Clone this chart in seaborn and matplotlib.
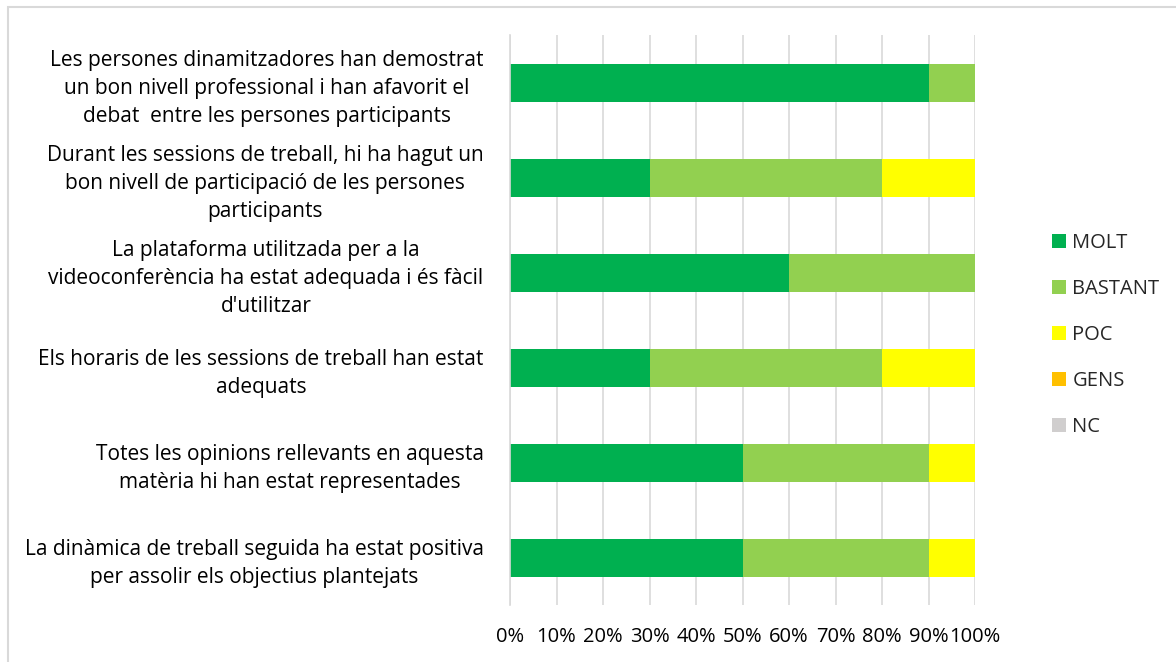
"""
Valoració de les sessions de treball: barres horitzontals apilades al 100%.
"""

import numpy as np
import pandas as pd
import matplotlib
matplotlib.use("Agg")
import matplotlib.pyplot as plt
from matplotlib.patches import Patch, Rectangle
import seaborn as sns

# Dades
categories = [
    "Les persones dinamitzadores han demostrat\nun bon nivell professional i han afavorit el\ndebat  entre les persones participants",
    "Durant les sessions de treball, hi ha hagut un\nbon nivell de participació de les persones\nparticipants",
    "La plataforma utilitzada per a la\nvideoconferència ha estat adequada i és fàcil\nd'utilitzar",
    "Els horaris de les sessions de treball han estat\nadequats",
    "Totes les opinions rellevants en aquesta\nmatèria hi han estat representades",
    "La dinàmica de treball seguida ha estat positiva\nper assolir els objectius plantejats",
]
molt = [0.90, 0.30, 0.60, 0.30, 0.50, 0.50]
bastant = [0.10, 0.50, 0.40, 0.50, 0.40, 0.40]
poc = [0.00, 0.20, 0.00, 0.20, 0.10, 0.10]
gens = [0.00, 0.00, 0.00, 0.00, 0.00, 0.00]
nc = [0.00, 0.00, 0.00, 0.00, 0.00, 0.00]

series = ["MOLT", "BASTANT", "POC", "GENS", "NC"]
colors = ["#00B050", "#92D050", "#FFFF00", "#FFC000", "#D0CECE"]
x_ticks = np.arange(0, 1.01, 0.1)
x_labels = [f"{int(round(t * 100))}%" for t in x_ticks]

sns.set_theme(style="white")
plt.rcParams["font.family"] = ["Open Sans", "DejaVu Sans"]

fig = plt.figure(figsize=(11.76, 6.62), dpi=100)
ax = fig.add_axes([510 / 1176, 1 - 605 / 662, 465 / 1176, 570 / 662])

# Sumes acumulades: es dibuixa primer la barra més llarga
df = pd.DataFrame({"cat": categories, "MOLT": molt, "BASTANT": bastant,
                   "POC": poc, "GENS": gens, "NC": nc})
cum = df[series].cumsum(axis=1)

for name, col in reversed(list(zip(series, colors))):
    sns.barplot(x=cum[name], y=df["cat"], color=col, orient="h",
                width=0.4, ax=ax, saturation=1, linewidth=0)

ax.set_xlim(0, 1)
ax.set_ylim(5.5, -0.5)
ax.set_xticks(x_ticks)
ax.set_xticklabels(x_labels, fontsize=14.5, color="#000000")
ax.tick_params(axis="x", length=0, pad=16)
ax.tick_params(axis="y", length=0, pad=19)
for lbl in ax.get_yticklabels():
    lbl.set_fontsize(15)
    lbl.set_color("#000000")
    lbl.set_multialignment("center")
    lbl.set_linespacing(1.42)
ax.set_xlabel("")
ax.set_ylabel("")
ax.grid(axis="x", color="#D9D9D9", linewidth=1.2)
ax.set_axisbelow(True)
for side in ["top", "right", "bottom"]:
    ax.spines[side].set_visible(False)
ax.spines["left"].set_color("#D9D9D9")
ax.spines["left"].set_linewidth(1.2)

handles = [Patch(facecolor=c, edgecolor="none") for c in colors]
fig.legend(handles, series, loc="center left",
           bbox_to_anchor=(1034 / 1176, 1 - 335 / 662), frameon=False,
           fontsize=14.5, handlelength=0.7, handleheight=0.7,
           handletextpad=0.3, labelspacing=1.3)

# Marc exterior del gràfic
fig.patches.append(Rectangle((8 / 1176, -0.05), 1.1, 1 - 6.5 / 662 + 0.05,
                             transform=fig.transFigure, fill=False,
                             edgecolor="#D9D9D9", linewidth=1.5))

fig.savefig("out.png", dpi=100)
